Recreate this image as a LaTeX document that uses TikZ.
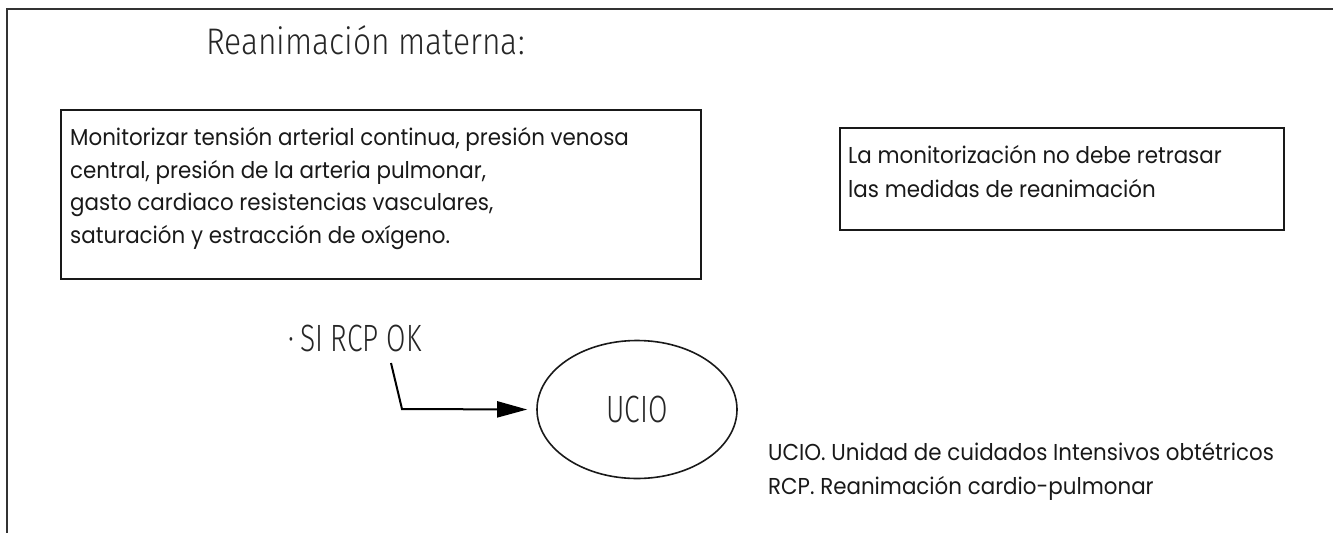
\documentclass[tikz,border=0pt]{standalone}
\usepackage{fontspec}
\usetikzlibrary{shapes.geometric,arrows.meta}
\setmainfont{Poppins}[FakeStretch=0.93]
\newfontfamily\thinfont{Fira Sans}[UprightFont={* Light},FakeStretch=0.86]
\newfontfamily\condfont{Fira Sans}[UprightFont={* Light},FakeStretch=0.74]
\begin{document}
\begin{tikzpicture}[x=1pt,y=-1pt,
  frame/.style={line width=1.6pt, draw=black!80},
  boxst/.style={draw=black!90, line width=2pt, rectangle, inner sep=0pt},
  txt/.style={anchor=base west, inner sep=0pt, text=black!90, font=\fontsize{23}{32}\selectfont},
  titlest/.style={anchor=base west, inner sep=0pt, text=black!85, font=\thinfont\fontsize{37}{40}\selectfont},
  condst/.style={inner sep=0pt, text=black!85, font=\condfont\fontsize{38}{40}\selectfont},
  arrowst/.style={line width=2pt, -{Triangle[length=30pt,width=16pt]}}]
\useasboundingbox (0,0) rectangle (1333,533);
\draw[frame] (1333,9) -- (7,9) -- (7,533);
\node[titlest] (title) at (206,54) {Reanimación materna:};
\node[boxst, anchor=north west, minimum width=640pt, minimum height=169pt] (monbox) at (60,109) {};
\node[txt] (m1) at (70,145) {Monitorizar tensión arterial continua, presión venosa};
\node[txt] (m2) at (70,178) {central, presión de la arteria pulmonar,};
\node[txt] (m3) at (70,210.5) {gasto cardiaco resistencias vasculares,};
\node[txt] (m4) at (70,243) {saturación y estracción de oxígeno.};
\node[boxst, anchor=north west, minimum width=444pt, minimum height=102pt] (notebox) at (839,127) {};
\node[txt] (n1) at (848,163) {La monitorización no debe retrasar};
\node[txt] (n2) at (848,197) {las medidas de reanimación};
\node[condst, anchor=base west] (si) at (288,351) {·\hspace{6pt}SI RCP OK};
\node[draw=black!90, ellipse, line width=1.6pt, minimum width=200pt, minimum height=138pt, inner sep=0pt, condst] (ucio) at (637,409.5) {UCIO};
\coordinate (a0) at (391,363);
\coordinate (a1) at (402,409);
\draw[arrowst] (a0) -- (a1) -- ([xshift=-9pt]ucio.west);
\node[txt] (l1) at (768,460) {UCIO. Unidad de cuidados Intensivos obtétricos};
\node[txt] (l2) at (768,494) {RCP. Reanimación cardio-pulmonar};
\end{tikzpicture}
\end{document}
